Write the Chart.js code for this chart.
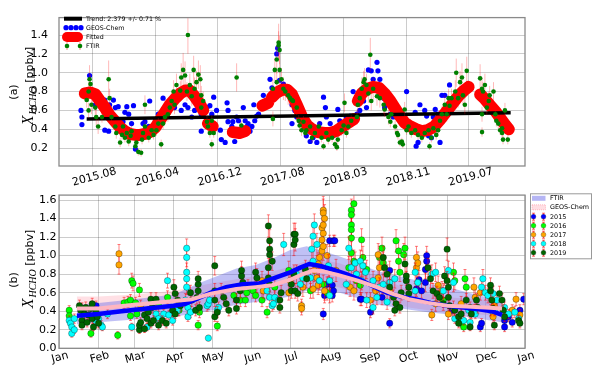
<!DOCTYPE html>
<html><head><meta charset="utf-8">
<script src="https://cdn.jsdelivr.net/npm/chart.js@4.4.1/dist/chart.umd.min.js"></script>
<style>
html,body{margin:0;padding:0;background:#fff;}
#wrap{position:relative;width:600px;height:372px;overflow:hidden;background:#fff;}
#c1{position:absolute;left:0;top:0;}
#c2{position:absolute;left:0;top:186px;}
</style></head><body>
<div id="wrap"><canvas id="c1" width="600" height="186"></canvas><canvas id="c2" width="600" height="186"></canvas></div>
<script>
// ---------------- Panel (a) data ----------------
const topTickVals = [2015.600, 2016.257, 2016.914, 2017.571, 2018.228, 2018.885, 2019.542];
const topTickLabels = ['2015.08','2016.04','2016.12','2017.08','2018.03','2018.11','2019.07'];
const topYTicks = [0.2,0.4,0.6,0.8,1.0,1.2,1.4];
const trendLine = [[2015.54,0.51],[2019.98,0.575]];
const trendLabel = 'Trend: 2.379 +/- 0.71 %';
const geosTop = [
[2015.48,0.60],[2015.49,0.53],[2015.49,0.45],[2015.56,0.76],[2015.57,0.97],[2015.63,0.66],[2015.66,0.73],[2015.70,0.63],[2015.73,0.71],[2015.77,0.56],[2015.78,0.66],[2015.82,0.71],[2015.84,0.63],[2015.87,0.64],[2015.73,0.39],[2015.77,0.38],[2015.91,0.46],[2015.92,0.48],[2015.94,0.58],[2015.96,0.64],[2016.03,0.65],[2015.98,0.56],[2016.01,0.46],[2016.05,0.31],[2016.05,0.19],[2016.08,0.34],[2016.13,0.46],[2016.15,0.48],[2016.20,0.70],[2016.19,0.43],[2016.26,0.49],[2016.29,0.56],[2016.34,0.73],[2016.36,0.56],[2016.39,0.60],[2016.41,0.70],[2016.46,0.63],[2016.53,0.60],[2016.57,0.66],[2016.60,0.63],[2016.64,0.53],[2016.67,0.60],[2016.74,0.56],[2016.74,0.38],[2016.80,0.63],[2016.83,0.65],[2016.85,0.56],
[2016.87,0.74],[2016.90,0.60],[2016.94,0.39],[2016.95,0.29],[2016.99,0.26],[2017.01,0.68],[2017.02,0.60],[2017.02,0.48],[2017.06,0.43],[2017.07,0.48],[2017.09,0.27],[2017.11,0.53],[2017.13,0.49],[2017.18,0.63],[2017.20,0.49],[2017.22,0.43],[2017.23,0.46],[2017.25,0.38],[2017.27,0.43],[2017.29,0.66],[2017.30,0.49],[2017.32,0.54],[2017.34,0.56],[2017.37,0.65],[2017.39,0.76],[2017.42,0.70],[2017.46,0.93],[2017.48,0.84],[2017.53,1.20],[2017.54,1.26],[2017.56,0.92],[2017.60,0.88],[2017.63,0.83],[2017.67,0.76],[2017.69,0.66],[2017.72,0.60],[2017.69,0.46],[2017.74,0.53],[2017.77,0.49],[2017.84,0.33],[2017.88,0.27],[2017.91,0.31],[2017.95,0.26],[2017.98,0.46],[2018.02,0.74],[2018.04,0.63],[2018.05,0.53],[2018.09,0.46],[2018.12,0.33],[2018.17,0.61],[2018.19,0.49],[2018.24,0.46],[2018.26,0.53],[2018.30,0.54],[2018.33,0.80],[2018.37,0.56],[2018.40,0.60],[2018.44,0.70],[2018.47,0.63],
[2018.49,1.03],[2018.52,1.02],[2018.54,0.93],[2018.58,1.11],[2018.59,1.02],[2018.56,0.85],[2018.51,0.83],[2018.61,0.93],[2018.63,0.80],[2018.65,0.73],[2018.66,0.63],[2018.68,0.66],[2018.72,0.56],[2018.75,0.53],[2018.79,0.56],[2018.84,0.46],[2018.89,0.80],[2018.91,0.48],[2018.98,0.58],[2018.99,0.22],[2019.01,0.26],[2019.03,0.66],[2019.08,0.60],[2019.10,0.54],[2019.12,0.33],[2019.15,0.31],[2019.17,0.53],[2019.19,0.61],[2019.22,0.56],[2019.24,0.26],[2019.26,0.76],[2019.29,0.76],[2019.33,0.66],[2019.34,0.87]
];
const ftirTop = [
[2015.57,0.93,0.15],[2015.58,0.88,0.1],[2015.56,0.80,0.1],[2015.54,0.71,0.08],[2015.56,0.60,0.08],[2015.59,0.66,0.1],[2015.63,0.63,0.08],[2015.64,0.53,0.1],[2015.66,0.43,0.08],[2015.70,0.53,0.06],[2015.77,0.93,0.2],[2015.78,0.73,0.1],[2015.80,0.53,0.08],[2015.84,0.43,0.06],[2015.85,0.36,0.06],[2015.89,0.26,0.05],[2015.91,0.34,0.05],[2015.92,0.43,0.06],[2015.94,0.31,0.05],[2015.96,0.36,0.06],[2015.98,0.27,0.05],[2016.00,0.33,0.05],[2016.01,0.38,0.06],[2016.05,0.22,0.04],[2016.06,0.26,0.05],[2016.08,0.16,0.04],[2016.11,0.15,0.04],[2016.12,0.29,0.05],[2016.13,0.36,0.05],[2016.15,0.43,0.06],[2016.15,0.66,0.1],[2016.19,0.31,0.05],[2016.22,0.39,0.06],[2016.24,0.34,0.05],[2016.27,0.39,0.06],[2016.29,0.46,0.06],[2016.32,0.24,0.05],[2016.34,0.46,0.06],[2016.36,0.53,0.08],[2016.39,0.56,0.08],[2016.41,0.63,0.08],[2016.43,0.70,0.1],[2016.45,0.80,0.12],[2016.46,0.66,0.1],[2016.48,0.87,0.12],[2016.52,0.81,0.1],[2016.53,0.95,0.15],[2016.55,1.03,0.18],[2016.57,0.97,0.15],[2016.59,0.80,0.1],[2016.60,1.40,0.2],[2016.62,0.87,0.12],[2016.64,0.75,0.1],[2016.66,1.03,0.15],[2016.67,0.83,0.12],[2016.69,0.90,0.12],[2016.71,0.98,0.15],[2016.73,0.93,0.15],[2016.74,0.76,0.1],[2016.74,0.63,0.08],[2016.76,0.70,0.1],[2016.80,0.48,0.06],[2016.81,0.43,0.06],[2016.85,0.24,0.05],[2016.83,0.36,0.05],
[2016.85,0.49,0.06],[2016.87,0.36,0.05],[2017.11,0.95,0.15],[2017.16,0.44,0.05],[2017.49,0.83,0.1],[2017.49,0.51,0.08],[2017.51,1.03,0.12],[2017.53,0.90,0.12],[2017.55,1.32,0.2],[2017.55,1.29,0.15],[2017.56,1.24,0.15],[2017.53,1.14,0.15],[2017.56,1.03,0.15],[2017.58,0.93,0.12],[2017.60,0.83,0.12],[2017.62,0.80,0.1],[2017.65,0.76,0.1],[2017.67,0.73,0.1],[2017.69,0.71,0.1],[2017.70,0.70,0.1],[2017.74,0.63,0.08],[2017.76,0.49,0.06],[2017.77,0.44,0.06],[2017.79,0.39,0.06],[2017.81,0.48,0.06],[2017.83,0.36,0.05],[2017.84,0.39,0.05],[2017.88,0.43,0.06],[2017.90,0.31,0.05],[2017.93,0.36,0.05],[2017.97,0.43,0.06],[2018.00,0.31,0.05],[2018.02,0.22,0.04],[2018.05,0.36,0.05],[2018.07,0.29,0.05],[2018.11,0.31,0.05],[2018.14,0.24,0.04],[2018.16,0.21,0.04],[2018.17,0.29,0.05],[2018.21,0.39,0.06],[2018.23,0.44,0.06],[2018.24,0.68,0.1],[2018.26,0.36,0.05],[2018.28,0.43,0.06],[2018.31,0.49,0.06],[2018.37,0.53,0.08],[2018.38,0.66,0.1],[2018.40,0.73,0.1],[2018.42,0.83,0.12],[2018.44,0.90,0.12],[2018.45,0.93,0.12],[2018.47,0.87,0.12],
[2018.51,1.19,0.18],[2018.49,0.78,0.1],[2018.52,0.70,0.1],[2018.54,0.83,0.12],[2018.58,0.75,0.1],[2018.61,0.73,0.1],[2018.65,0.66,0.1],[2018.66,0.61,0.08],[2018.70,0.53,0.08],[2018.72,0.48,0.06],[2018.73,0.56,0.08],[2018.77,0.43,0.06],[2018.79,0.36,0.05],[2018.80,0.34,0.05],[2018.82,0.26,0.04],[2018.84,0.27,0.04],[2018.85,0.24,0.04],[2018.87,0.61,0.08],[2018.89,0.39,0.05],[2018.91,0.43,0.06],[2018.94,0.36,0.05],[2018.98,0.39,0.05],[2019.01,0.34,0.05],[2019.05,0.31,0.05],[2019.08,0.36,0.05],[2019.12,0.39,0.05],[2019.13,0.22,0.04],[2019.15,0.31,0.05],[2019.17,0.41,0.06],[2019.20,0.34,0.05],[2019.22,0.39,0.06],[2019.24,0.49,0.08],[2019.26,0.56,0.08],[2019.29,0.66,0.1],[2019.31,0.56,0.08],[2019.33,0.73,0.1],[2019.34,0.65,0.1],[2019.36,0.73,0.1],[2019.40,0.80,0.12],[2019.41,1.00,0.15],[2019.43,0.73,0.1],[2019.45,0.90,0.12],[2019.47,0.95,0.15],[2019.48,0.76,0.1],[2019.50,0.66,0.1],[2019.52,1.02,0.15],[2019.66,0.94,0.15],[2019.68,0.83,0.12],[2019.69,0.80,0.1],[2019.71,0.87,0.12],[2019.73,0.63,0.08],[2019.68,0.56,0.08],[2019.68,0.37,0.05],[2019.75,0.70,0.1],[2019.76,0.76,0.1],[2019.80,0.80,0.1],[2019.82,0.56,0.08],[2019.83,0.49,0.06],[2019.85,0.46,0.06],[2019.87,0.39,0.05],[2019.89,0.36,0.05],[2019.90,0.29,0.05],[2019.92,0.60,0.08],[2019.95,0.29,0.05],[2019.89,0.41,0.05]
];
const fittedSegments = [
[[2015.52,0.78],[2015.58,0.79],[2015.63,0.77],[2015.68,0.70],[2015.73,0.63],[2015.78,0.55],[2015.84,0.48],[2015.89,0.42],[2015.94,0.38],[2015.99,0.35],[2016.05,0.34],[2016.10,0.34],[2016.15,0.35],[2016.20,0.37],[2016.26,0.42],[2016.31,0.50],[2016.36,0.58],[2016.41,0.66],[2016.47,0.73],[2016.52,0.78],[2016.57,0.81],[2016.62,0.81],[2016.67,0.75],[2016.73,0.66],[2016.76,0.60]],
[[2016.81,0.46],[2016.86,0.43]],
[[2017.07,0.37],[2017.14,0.36],[2017.20,0.38]],
[[2017.38,0.65],[2017.44,0.68]],
[[2017.48,0.74],[2017.53,0.79],[2017.59,0.82],[2017.64,0.82],[2017.69,0.77],[2017.74,0.66],[2017.80,0.52],[2017.85,0.44],[2017.90,0.40],[2017.96,0.37],[2018.03,0.36],[2018.09,0.36],[2018.15,0.38],[2018.21,0.42],[2018.28,0.47],[2018.34,0.51]],
[[2018.38,0.70],[2018.42,0.78],[2018.48,0.83],[2018.54,0.85],[2018.60,0.84],[2018.66,0.78],[2018.72,0.70],[2018.77,0.62],[2018.82,0.54],[2018.87,0.47],[2018.93,0.43],[2018.99,0.40],[2019.05,0.38],[2019.11,0.39],[2019.18,0.43],[2019.24,0.50],[2019.30,0.58],[2019.37,0.67],[2019.43,0.75],[2019.49,0.81],[2019.54,0.85]],
[[2019.66,0.77],[2019.71,0.72],[2019.76,0.66],[2019.82,0.59],[2019.87,0.52],[2019.92,0.45],[2019.96,0.40]]
];

// ---------------- Panel (b) data ----------------
const monthTickDays = [1,32,60,91,121,152,182,213,244,274,305,335,366];
const monthLabels = ['Jan','Feb','Mar','Apr','May','Jun','Jul','Aug','Sep','Oct','Nov','Dec','Jan'];
const botYTicks = [0,0.2,0.4,0.6,0.8,1.0,1.2,1.4,1.6];
const ftirMean = [[15,0.35],[32,0.37],[50,0.40],[70,0.43],[91,0.46],[100,0.48],[110,0.54],[120,0.60],[132,0.66],[145,0.69],[158,0.70],[170,0.76],[182,0.82],[190,0.87],[197,0.91],[205,0.89],[215,0.85],[226,0.80],[237,0.74],[247,0.67],[258,0.60],[268,0.56],[280,0.53],[292,0.49],[305,0.46],[318,0.44],[330,0.42],[340,0.40],[348,0.36]];
const ftirBand = [[15,0.26,0.47],[32,0.28,0.49],[60,0.31,0.53],[91,0.34,0.58],[110,0.38,0.70],[125,0.42,0.78],[140,0.47,0.86],[155,0.50,0.90],[170,0.53,0.98],[182,0.56,1.06],[195,0.62,1.10],[210,0.62,1.04],[221,0.60,0.99],[235,0.54,0.92],[247,0.48,0.85],[260,0.45,0.80],[273,0.42,0.76],[290,0.39,0.70],[311,0.36,0.64],[330,0.32,0.57],[348,0.28,0.52]];
const gcMean = [[15,0.43],[32,0.43],[60,0.47],[91,0.51],[105,0.53],[120,0.59],[140,0.64],[155,0.66],[168,0.68],[182,0.74],[192,0.80],[200,0.84],[208,0.83],[220,0.79],[235,0.73],[250,0.66],[262,0.59],[275,0.53],[290,0.49],[305,0.46],[320,0.45],[335,0.44],[348,0.43]];
const gcBand = [[15,0.35,0.56],[32,0.36,0.56],[60,0.39,0.58],[91,0.42,0.62],[120,0.49,0.70],[155,0.55,0.78],[182,0.62,0.88],[200,0.70,0.97],[220,0.66,0.92],[250,0.55,0.78],[275,0.44,0.63],[305,0.38,0.55],[335,0.36,0.52],[348,0.35,0.51]];
const yearNames = ['2015','2016','2017','2018','2019'];
const yearColors = ['#0000ff','#00ff00','#ffa500','#00ffff','#006400'];
const y2015 = [[30,0.46,0.05],[208,0.37,0.06],[209,0.57,0.08],[211,0.69,0.08],[213,1.16,0.06],[215,0.68,0.08],[215,0.57,0.07],[216,1.16,0.06],[216,0.62,0.08],[217,1.16,0.06],[237,0.53,0.07],[238,0.53,0.07],[245,0.39,0.06],[254,0.55,0.08],[260,0.84,0.1],[260,0.27,0.05],[281,0.64,0.08],[283,0.74,0.1],[285,0.62,0.08],[288,0.85,0.1],[288,0.71,0.1],[289,1.00,0.1],[289,0.94,0.1],[309,0.41,0.06],[326,0.41,0.06],[331,0.23,0.05],[332,0.27,0.05],[350,0.30,0.05],[350,0.23,0.05],[353,0.34,0.05],[356,0.28,0.05],[362,0.41,0.06],[365,0.53,0.06]];
const y2016 = [[9,0.41,0.05],[9,0.35,0.05],[19,0.43,0.06],[26,0.16,0.04],[47,0.14,0.04],[52,0.49,0.06],[55,0.50,0.06],[57,0.52,0.06],[57,0.35,0.05],[58,0.73,0.08],[59,0.70,0.08],[61,0.49,0.06],[62,0.37,0.05],[64,0.63,0.07],[79,0.46,0.06],[86,0.55,0.07],[95,0.41,0.06],[110,0.25,0.05],[111,0.39,0.06],[125,0.24,0.05],[138,0.57,0.07],[143,0.52,0.07],[147,0.52,0.07],[148,0.60,0.08],[149,0.66,0.08],[153,0.62,0.08],[155,0.57,0.07],[160,0.52,0.07],[164,0.39,0.06],[170,0.66,0.08],[181,0.84,0.1],[198,0.62,0.08],[208,0.69,0.1],[211,0.60,0.08],[228,0.87,0.12],[230,1.49,0.12],[230,1.44,0.12],[230,1.33,0.12],[230,1.28,0.12],[230,1.19,0.12],[230,1.03,0.12],[232,1.56,0.12],[232,0.94,0.12],[234,0.73,0.1],[237,0.68,0.1],[238,1.17,0.12],[239,0.98,0.12],[242,0.85,0.1],[252,0.98,0.12],[254,1.08,0.12],[255,0.92,0.12],[265,1.16,0.12],[267,1.05,0.12],[267,0.94,0.12],[268,0.82,0.1],[271,1.01,0.12],[272,1.08,0.12],[302,0.52,0.08],[310,0.82,0.1],[311,0.73,0.1],[316,0.27,0.05],[318,0.23,0.05],[319,0.75,0.1],[320,0.66,0.1]];
const y2017 = [[48,1.02,0.1],[48,0.90,0.1],[65,0.46,0.06],[160,0.73,0.1],[161,0.62,0.08],[181,0.60,0.08],[182,0.73,0.1],[191,0.46,0.07],[191,0.43,0.07],[192,0.66,0.1],[200,0.64,0.1],[201,0.84,0.12],[203,0.76,0.12],[204,0.91,0.12],[204,0.68,0.1],[205,0.98,0.12],[207,1.30,0.15],[207,1.17,0.15],[207,1.05,0.15],[208,1.49,0.15],[208,1.46,0.15],[208,1.33,0.15],[208,1.24,0.15],[208,1.10,0.15],[209,1.40,0.15],[209,0.62,0.1],[211,1.00,0.12],[218,0.84,0.12],[229,0.66,0.1],[232,0.62,0.1],[245,0.52,0.08],[249,0.62,0.1],[251,1.01,0.12],[251,0.76,0.1],[252,0.87,0.12],[260,0.62,0.1],[281,0.98,0.12],[281,0.87,0.1],[282,0.92,0.12],[293,0.36,0.06],[296,0.48,0.08],[298,0.68,0.1],[301,0.62,0.1],[306,0.37,0.06],[310,0.44,0.07],[316,0.48,0.08],[326,0.66,0.1],[327,0.55,0.08],[331,0.60,0.08],[341,0.34,0.06],[342,0.46,0.07],[356,0.41,0.06],[359,0.53,0.07],[362,0.36,0.06]];
const y2018 = [[9,0.30,0.05],[10,0.27,0.05],[11,0.23,0.05],[11,0.16,0.04],[13,0.20,0.04],[13,0.32,0.05],[30,0.28,0.05],[32,0.32,0.05],[34,0.25,0.05],[35,0.23,0.04],[39,0.37,0.05],[58,0.23,0.04],[70,0.23,0.04],[77,0.37,0.05],[79,0.32,0.05],[83,0.37,0.05],[86,0.73,0.08],[87,0.36,0.05],[90,0.30,0.05],[94,0.41,0.06],
[100,0.52,0.07],[101,1.08,0.1],[101,0.98,0.1],[101,0.82,0.1],[101,0.75,0.1],[101,0.66,0.08],[102,0.44,0.06],[102,0.34,0.05],[104,0.39,0.06],[117,0.46,0.06],[118,0.48,0.06],[118,0.11,0.03],[119,0.52,0.07],[125,0.41,0.06],[126,0.44,0.06],[164,0.62,0.08],[166,0.55,0.07],[168,0.46,0.06],[169,0.48,0.06],[170,0.55,0.07],[173,0.52,0.07],[177,1.12,0.12],
[187,0.80,0.1],[190,0.69,0.1],[192,0.76,0.1],[198,0.76,0.1],[199,1.07,0.12],[200,1.21,0.12],[200,0.94,0.12],[201,1.33,0.12],[203,1.12,0.12],[205,0.73,0.1],[212,0.89,0.12],[213,0.73,0.1],[213,0.57,0.08],[226,0.69,0.1],[228,1.08,0.12],[230,0.87,0.12],[233,0.92,0.12],[234,0.80,0.1],[237,0.94,0.12],[238,0.73,0.1],[239,0.89,0.12],[241,0.82,0.1],[242,0.52,0.08],[247,0.73,0.1],[247,0.44,0.07],[250,0.55,0.08],[252,0.66,0.1],[255,0.69,0.1],[258,0.50,0.08],[260,0.71,0.1],[264,0.75,0.1],
[280,0.82,0.1],[280,0.62,0.08],[282,0.71,0.1],[293,0.80,0.1],[296,0.82,0.1],[302,0.62,0.08],[306,0.84,0.1],[310,0.71,0.1],[311,0.32,0.05],[318,0.30,0.05],[322,0.41,0.06],[323,0.28,0.05],[327,0.37,0.05],[332,0.66,0.08],[333,0.75,0.1],[335,0.60,0.08],[337,0.57,0.08],[339,0.41,0.06],[341,0.59,0.08],[342,0.41,0.06],[344,0.52,0.07],[350,0.44,0.06],[353,0.37,0.05],[358,0.39,0.06],[361,0.32,0.05]];
const y2019 = [[17,0.46,0.06],[18,0.41,0.06],[19,0.30,0.05],[19,0.25,0.05],[21,0.37,0.05],[22,0.44,0.06],[23,0.28,0.05],[24,0.36,0.05],[26,0.43,0.06],[27,0.48,0.06],[27,0.32,0.05],[28,0.23,0.04],[30,0.39,0.06],[31,0.34,0.05],[32,0.27,0.05],[64,0.20,0.04],[64,0.25,0.05],[65,0.28,0.05],[68,0.36,0.05],[68,0.21,0.04],[70,0.32,0.05],[71,0.39,0.06],[73,0.53,0.07],[73,0.27,0.05],[74,0.44,0.06],[75,0.30,0.05],[77,0.53,0.07],[79,0.25,0.05],[82,0.30,0.05],[85,0.27,0.05],[90,0.41,0.06],[91,0.66,0.08],[92,0.59,0.08],[92,0.37,0.05],[94,0.52,0.07],
[96,0.46,0.06],[104,0.60,0.08],[105,0.52,0.07],[108,0.41,0.06],[109,0.55,0.07],[110,0.62,0.08],[110,0.69,0.08],[110,0.75,0.08],[111,0.44,0.06],[123,0.89,0.1],[123,0.62,0.08],[123,0.52,0.07],[123,0.34,0.05],[125,0.39,0.06],[128,0.62,0.08],[130,0.55,0.07],[132,0.48,0.06],[134,0.41,0.06],[140,0.52,0.07],[140,0.43,0.06],[143,0.62,0.08],[144,0.78,0.1],[144,0.84,0.1],[145,0.71,0.08],[155,0.82,0.1],[156,0.68,0.08],[156,0.76,0.1],[165,1.32,0.12],[165,0.87,0.1],[165,0.76,0.1],[166,1.16,0.12],[166,1.07,0.12],[166,1.01,0.12],[166,0.69,0.08],[168,0.94,0.1],[174,0.52,0.07],[174,0.44,0.06],[175,0.60,0.08],[183,0.62,0.08],[183,0.69,0.08],[185,1.23,0.12],[185,1.12,0.12],[185,0.80,0.1],
[186,1.23,0.12],[186,1.17,0.12],[186,0.62,0.08],[188,0.59,0.08],[194,0.85,0.1],[195,0.75,0.1],[255,0.98,0.12],[256,0.87,0.1],[258,0.80,0.1],[260,0.66,0.08],[263,0.55,0.08],[264,0.41,0.06],[265,0.48,0.07],[268,0.44,0.06],[269,0.60,0.08],[272,0.91,0.1],[273,0.73,0.1],[273,0.78,0.1],[275,0.59,0.08],[275,0.66,0.08],
[290,0.87,0.1],[292,0.75,0.1],[294,0.62,0.08],[297,0.59,0.08],[299,0.55,0.07],[302,0.48,0.07],[303,0.78,0.1],[305,1.07,0.12],[305,0.73,0.1],[306,0.66,0.08],[306,0.55,0.07],[307,0.46,0.06],[311,0.41,0.06],[314,0.34,0.05],[314,0.27,0.05],[316,0.37,0.05],[320,0.52,0.07],[323,0.44,0.06],[323,0.23,0.04],[324,0.37,0.05],[328,0.52,0.07],[329,0.44,0.06],[339,0.68,0.08],[339,0.62,0.08],[340,0.52,0.07],[341,0.43,0.06],[342,0.25,0.05],[346,0.59,0.08],[348,0.52,0.07],[349,0.41,0.06],[350,0.34,0.05],[361,0.30,0.05],[362,0.27,0.05]];
const yearData = [y2015, y2016, y2017, y2018, y2019];

// ---------------- helpers ----------------
const FONT = '"DejaVu Sans", sans-serif';
Chart.defaults.font.family = FONT;
const xy = a => a.map(p => ({x:p[0], y:p[1]}));
const xye = a => a.map(p => ({x:p[0], y:p[1], e:p[2]}));
function joinSegs(segs){
  const out = [];
  segs.forEach((s,i) => {
    if (i) { const prev = segs[i-1]; out.push({x:(prev[prev.length-1][0]+s[0][0])/2, y:null}); }
    s.forEach(p => out.push({x:p[0], y:p[1]}));
  });
  return out;
}

const errorBarPlugin = {
  id:'errbars',
  beforeDatasetDraw(chart, args){
    const ds = chart.data.datasets[args.index];
    if (!ds.errStyle) return;
    const {ctx, chartArea:a} = chart, xs = chart.scales.x, ys = chart.scales.y;
    ctx.save();
    ctx.beginPath(); ctx.rect(a.left, a.top, a.right-a.left, a.bottom-a.top); ctx.clip();
    ctx.strokeStyle = ds.errStyle.color; ctx.lineWidth = ds.errStyle.width;
    const c = ds.errStyle.cap;
    ds.data.forEach(d => {
      const px = xs.getPixelForValue(d.x), y1 = ys.getPixelForValue(d.y - d.e), y2 = ys.getPixelForValue(d.y + d.e);
      ctx.beginPath(); ctx.moveTo(px,y1); ctx.lineTo(px,y2);
      if (c) { ctx.moveTo(px-c,y1); ctx.lineTo(px+c,y1); ctx.moveTo(px-c,y2); ctx.lineTo(px+c,y2); }
      ctx.stroke();
    });
    ctx.restore();
  }
};

function drawFrame(chart){
  const {ctx, chartArea:a} = chart;
  ctx.save(); ctx.strokeStyle = '#8a8a8a'; ctx.lineWidth = 1.3;
  ctx.strokeRect(a.left, a.top, a.right-a.left, a.bottom-a.top); ctx.restore();
}
function drawXLabels(chart, vals, labels, cy, dx){
  const ctx = chart.ctx, xs = chart.scales.x;
  ctx.save(); ctx.fillStyle = '#000'; ctx.font = '11px ' + FONT; ctx.textAlign = 'center'; ctx.textBaseline = 'middle';
  vals.forEach((v,i) => {
    const px = xs.getPixelForValue(v);
    ctx.save(); ctx.translate(px + dx, cy); ctx.rotate(-15*Math.PI/180); ctx.fillText(labels[i], 0, 0); ctx.restore();
  });
  ctx.restore();
}
function drawYTitle(ctx, tag, tagY, colY){
  ctx.save(); ctx.fillStyle = '#000';
  ctx.save(); ctx.translate(17, tagY); ctx.rotate(-Math.PI/2);
  ctx.font = '11px ' + FONT; ctx.textAlign = 'center'; ctx.textBaseline = 'alphabetic'; ctx.fillText(tag, 0, 0); ctx.restore();
  const parts = [
    {t:'X', f:'italic 16px "Liberation Serif", serif', dy:0, gap:1},
    {t:'HCHO', f:'italic 10px "Liberation Serif", serif', dy:2.5, gap:0},
    {t:' [ppbv]', f:'11px ' + FONT, dy:0, gap:0}
  ];
  let total = 0;
  parts.forEach(p => { ctx.font = p.f; p.w = ctx.measureText(p.t).width + p.gap; total += p.w; });
  ctx.translate(33, colY); ctx.rotate(-Math.PI/2); ctx.textAlign = 'left'; ctx.textBaseline = 'alphabetic';
  let x = -total/2;
  parts.forEach(p => { ctx.font = p.f; ctx.fillText(p.t, x, p.dy); x += p.w; });
  ctx.restore();
}
function dot(ctx, x, y, r, fill, stroke, lw){
  ctx.beginPath(); ctx.arc(x, y, r, 0, 2*Math.PI); ctx.fillStyle = fill; ctx.fill();
  if (stroke) { ctx.strokeStyle = stroke; ctx.lineWidth = lw; ctx.stroke(); }
}
function vbar(ctx, x, y, h, color, cap){
  ctx.strokeStyle = color; ctx.lineWidth = 1; ctx.beginPath(); ctx.moveTo(x, y-h); ctx.lineTo(x, y+h);
  if (cap) { ctx.moveTo(x-cap, y-h); ctx.lineTo(x+cap, y-h); ctx.moveTo(x-cap, y+h); ctx.lineTo(x+cap, y+h); }
  ctx.stroke();
}

const decorTop = {
  id:'decorTop',
  afterDraw(chart){
    const ctx = chart.ctx;
    drawFrame(chart);
    drawXLabels(chart, topTickVals, topTickLabels, 177, 2);
    drawYTitle(ctx, '(a)', 92, 86);
    ctx.save();
    const tx = 86, font = '6.3px ' + FONT;
    const rows = [18.7, 27.7, 37, 46];
    ctx.strokeStyle = '#000'; ctx.lineWidth = 4; ctx.beginPath(); ctx.moveTo(64, rows[0]); ctx.lineTo(82, rows[0]); ctx.stroke();
    [66, 71, 76, 81].forEach(x => dot(ctx, x, rows[1], 2.6, '#0000ff'));
    ctx.strokeStyle = '#ff0000'; ctx.lineWidth = 10; ctx.lineCap = 'round'; ctx.beginPath(); ctx.moveTo(67, rows[2]); ctx.lineTo(78, rows[2]); ctx.stroke();
    ctx.lineCap = 'butt';
    [67, 80].forEach(x => { vbar(ctx, x, rows[3], 4, 'rgba(255,0,0,0.45)', 0); dot(ctx, x, rows[3], 2.3, '#008000'); });
    ctx.fillStyle = '#000'; ctx.font = font; ctx.textAlign = 'left'; ctx.textBaseline = 'middle';
    ctx.fillText(trendLabel, tx, rows[0] + 0.5);
    ctx.fillText('GEOS-Chem', tx, rows[1] + 0.5);
    ctx.fillText('Fitted', tx, rows[2] + 0.5);
    ctx.fillText('FTIR', tx, rows[3] + 0.5);
    ctx.restore();
  }
};

const decorBot = {
  id:'decorBot',
  afterDraw(chart){
    const ctx = chart.ctx;
    drawFrame(chart);
    drawXLabels(chart, monthTickDays, monthLabels, 171.5, 1);
    drawYTitle(ctx, '(b)', 94, 83);
    ctx.save();
    ctx.fillStyle = '#fff'; ctx.fillRect(530, 7.3, 62, 66);
    ctx.strokeStyle = '#999'; ctx.lineWidth = 1; ctx.strokeRect(530.5, 7.8, 61, 65);
    const rows = [12.3, 21.3, 30.7, 39.7, 48.7, 57.7, 66.7];
    ctx.fillStyle = 'rgba(90,90,230,0.45)'; ctx.fillRect(532, rows[0]-2.5, 13.5, 5);
    ctx.fillStyle = 'rgba(255,190,200,0.5)'; ctx.fillRect(532, rows[1]-2.5, 13.5, 5);
    ctx.setLineDash([1,1]); ctx.strokeStyle = 'rgba(255,90,110,0.6)'; ctx.lineWidth = 0.6; ctx.strokeRect(532, rows[1]-2.5, 13.5, 5); ctx.setLineDash([]);
    yearNames.forEach((n,i) => {
      const y = rows[i+2];
      [533.5, 543.5].forEach(x => { vbar(ctx, x, y, 3.5, 'rgba(255,0,0,0.6)', 1.5); dot(ctx, x, y, 2.4, yearColors[i], 'rgba(0,0,0,0.5)', 0.5); });
    });
    ctx.fillStyle = '#000'; ctx.font = '6.4px ' + FONT; ctx.textAlign = 'left'; ctx.textBaseline = 'middle';
    ctx.fillText('FTIR', 550, rows[0] + 0.5);
    ctx.fillText('GEOS-Chem', 550, rows[1] + 0.5);
    yearNames.forEach((n,i) => ctx.fillText(n, 550, rows[i+2] + 0.5));
    ctx.restore();
  }
};

const gridOpts = {color:'rgba(0,0,0,0.2)', lineWidth:1, drawTicks:false, borderDash:[1.5,2]};

// ---------------- Chart (a) ----------------
new Chart(document.getElementById('c1'), {
  type:'scatter',
  data:{datasets:[
    {label:'FTIR', data:xye(ftirTop), backgroundColor:'#008000', borderWidth:0, pointRadius:2.3, order:1,
     errStyle:{color:'rgba(255,0,0,0.28)', width:1, cap:0}},
    {label:'Trend', type:'line', data:xy(trendLine), borderColor:'#000', borderWidth:3.5, pointRadius:0, order:2},
    {label:'Fitted', type:'line', data:joinSegs(fittedSegments), borderColor:'#ff0000', borderWidth:12, pointRadius:0,
     borderCapStyle:'round', borderJoinStyle:'round', spanGaps:false, tension:0, order:3},
    {label:'GEOS-Chem', data:xy(geosTop), backgroundColor:'#0000ff', borderWidth:0, pointRadius:2.6, order:4}
  ]},
  options:{
    responsive:false, animation:false, events:[],
    layout:{padding:{top:11, right:75, left:0, bottom:0}},
    plugins:{legend:{display:false}, tooltip:{enabled:false}},
    scales:{
      x:{type:'linear', min:2015.25, max:2020.13,
         afterBuildTicks:s => { s.ticks = topTickVals.map(v => ({value:v})); },
         afterFit:s => { s.height = 20; },
         ticks:{display:false}, grid:{...gridOpts}, border:{display:false}},
      y:{min:0.01, max:1.585,
         afterBuildTicks:s => { s.ticks = topYTicks.map(v => ({value:v})); },
         afterFit:s => { s.width = 59; },
         ticks:{callback:v => v.toFixed(1), color:'#000', font:{size:11, family:FONT}, padding:11},
         grid:{...gridOpts}, border:{display:false}}
    }
  },
  plugins:[errorBarPlugin, decorTop]
});

// ---------------- Chart (b) ----------------
const band = (arr, idx) => arr.map(p => ({x:p[0], y:p[idx]}));
const botSets = [
  {label:'gcLo', type:'line', data:band(gcBand,1), borderWidth:0, pointRadius:0, fill:false, order:30},
  {label:'gcHi', type:'line', data:band(gcBand,2), borderWidth:0, pointRadius:0, fill:'-1', backgroundColor:'rgba(255,182,193,0.42)', order:30},
  {label:'ftLo', type:'line', data:band(ftirBand,1), borderWidth:0, pointRadius:0, fill:false, order:29},
  {label:'ftHi', type:'line', data:band(ftirBand,2), borderWidth:0, pointRadius:0, fill:'-1', backgroundColor:'rgba(90,90,230,0.38)', order:29}
];
yearData.forEach((arr,i) => botSets.push({
  label:yearNames[i], data:xye(arr), backgroundColor:yearColors[i], borderColor:'rgba(0,0,0,0.5)', borderWidth:0.6,
  pointRadius:3.2, order:20-i, errStyle:{color:'rgba(255,0,0,0.5)', width:1, cap:1.5}
}));
botSets.push({label:'FTIR mean', type:'line', data:xy(ftirMean), borderColor:'#0000ff', borderWidth:4.5, pointRadius:0, tension:0, order:2});
botSets.push({label:'GEOS-Chem mean', type:'line', data:xy(gcMean), borderColor:'#ffb6c1', borderWidth:4, pointRadius:0, tension:0, order:1});

new Chart(document.getElementById('c2'), {
  type:'scatter',
  data:{datasets:botSets},
  options:{
    responsive:false, animation:false, events:[],
    layout:{padding:{top:7.3, right:75, left:0, bottom:0}},
    plugins:{legend:{display:false}, tooltip:{enabled:false}, filler:{propagate:false}},
    scales:{
      x:{type:'linear', min:1, max:366,
         afterBuildTicks:s => { s.ticks = monthTickDays.map(v => ({value:v})); },
         afterFit:s => { s.height = 23.7; },
         ticks:{display:false}, grid:{...gridOpts}, border:{display:false}},
      y:{min:0, max:1.653,
         afterBuildTicks:s => { s.ticks = botYTicks.map(v => ({value:v})); },
         afterFit:s => { s.width = 59; },
         ticks:{callback:v => v.toFixed(1), color:'#000', font:{size:11, family:FONT}, padding:2.5},
         grid:{...gridOpts}, border:{display:false}}
    }
  },
  plugins:[errorBarPlugin, decorBot]
});
</script>
</body></html>
